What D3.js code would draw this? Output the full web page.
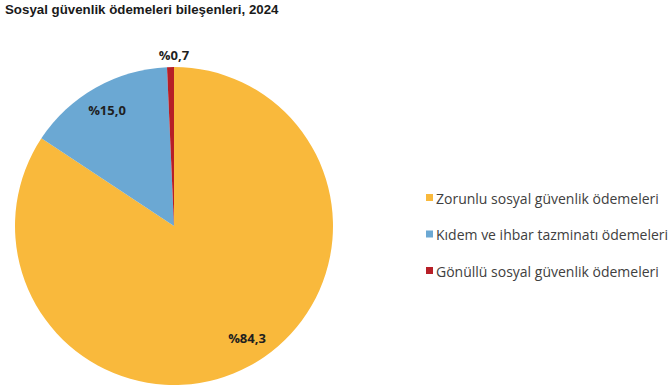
<!DOCTYPE html>
<html><head><meta charset="utf-8">
<script src="https://cdn.jsdelivr.net/npm/d3@7"></script>
<style>body{margin:0;background:#fff}svg{display:block}</style>
</head><body>
<svg id="c" width="672" height="391"></svg>
<script>
const categories = ["Zorunlu sosyal güvenlik ödemeleri", "Kıdem ve ihbar tazminatı ödemeleri", "Gönüllü sosyal güvenlik ödemeleri"];
const values = [84.3, 15.0, 0.7];
const labels = ["%84,3", "%15,0", "%0,7"];
const colors = ["#F9B93C", "#6BA8D3", "#B71F27"];
const title = "Sosyal güvenlik ödemeleri bileşenleri, 2024";

const svg = d3.select("#c");
svg.append("text").attr("x", 5).attr("y", 14)
  .attr("font-family", "Liberation Sans, Arial, sans-serif").attr("font-weight", "bold")
  .attr("font-size", 13.3).attr("fill", "#1a1a1a").text(title);

const cx = 174, cy = 226, r = 159;
const pie = d3.pie().sort(null).value(d => d);
const arcs = pie(values);
const arc = d3.arc().innerRadius(0).outerRadius(r);
const g = svg.append("g").attr("transform", `translate(${cx},${cy})`);
g.selectAll("path").data(arcs).enter().append("path")
  .attr("d", arc).attr("fill", (d, i) => colors[i]);

const labelPos = [[73, 112], [-67, -116], [0, -171]];
g.selectAll("text.lbl").data(arcs).enter().append("text")
  .attr("class", "lbl")
  .attr("x", (d, i) => labelPos[i][0]).attr("y", (d, i) => labelPos[i][1])
  .attr("text-anchor", "middle").attr("dominant-baseline", "central")
  .attr("font-family", "Open Sans, sans-serif").attr("font-weight", "bold")
  .attr("font-size", 13).attr("fill", "#1f1f1f")
  .text((d, i) => labels[i]);

const ly = d3.scalePoint().domain(categories).range([198, 271]);
const lg = svg.append("g");
categories.forEach((c, i) => {
  lg.append("rect").attr("x", 426).attr("y", ly(c) - 4).attr("width", 7).attr("height", 7).attr("fill", colors[i]);
  lg.append("text").attr("x", 436).attr("y", ly(c)).attr("dominant-baseline", "central")
    .attr("font-family", "Open Sans, sans-serif").attr("font-size", 14).attr("fill", "#404040").text(c);
});
</script>
</body></html>
